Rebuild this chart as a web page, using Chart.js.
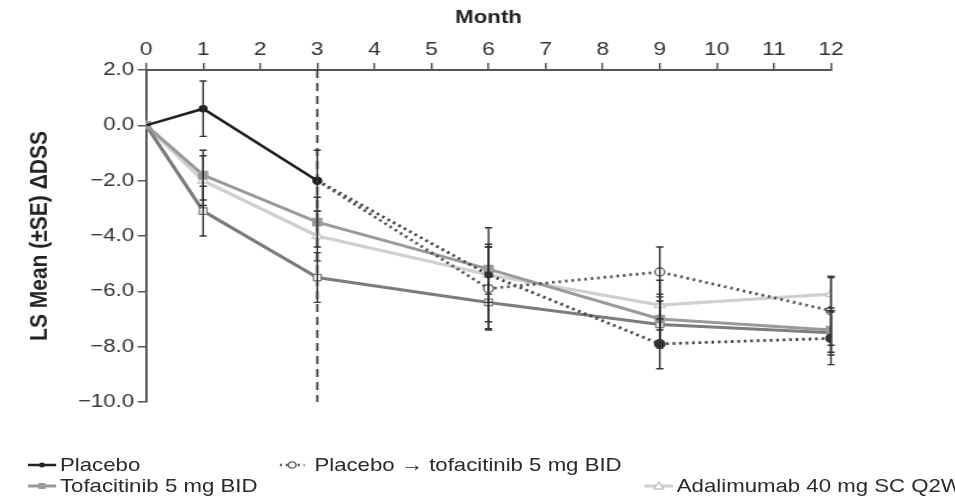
<!DOCTYPE html>
<html>
<head>
<meta charset="utf-8">
<script src="https://cdn.jsdelivr.net/npm/chart.js@4.4.1/dist/chart.umd.min.js"></script>
<style>
html, body { margin: 0; padding: 0; background: #fff; overflow: hidden; width: 955px; height: 501px; }
#wrap { position: absolute; left: 0; top: 0; width: 796px; height: 501px; transform: scaleX(1.2); transform-origin: 0 0; }
#box { position: absolute; left: 0; top: 0; width: 796px; height: 501px; }
.lg { position: absolute; font: 18.5px "Liberation Sans", Arial, sans-serif; line-height: 22px; color: #2a2a2a; white-space: nowrap; }
.mk { position: absolute; }
</style>
</head>
<body>
<div id="wrap">
  <div id="box"><canvas id="GraficoDSS"></canvas></div>

  <svg class="mk" style="left:23px;top:459px" width="24" height="12">
    <line x1="0" y1="6" x2="24" y2="6" stroke="#222" stroke-width="2.5"/>
    <circle cx="12" cy="6" r="2.5" fill="#222"/>
  </svg>
  <div class="lg" style="left:50px;top:454px">Placebo</div>

  <svg class="mk" style="left:233px;top:459px" width="21" height="12">
    <line x1="0" y1="6" x2="21" y2="6" stroke="#666" stroke-width="2.5" stroke-dasharray="2 3"/>
    <circle cx="10.5" cy="6" r="3.2" fill="#fff" stroke="#666" stroke-width="1.3"/>
  </svg>
  <div class="lg" style="left:262px;top:454px">Placebo → tofacitinib 5 mg BID</div>

  <svg class="mk" style="left:23px;top:480px" width="24" height="12">
    <line x1="0" y1="6" x2="24" y2="6" stroke="#9a9a9a" stroke-width="3"/>
    <rect x="9" y="3" width="6" height="6" fill="#9a9a9a"/>
  </svg>
  <div class="lg" style="left:50px;top:475px">Tofacitinib 5 mg BID</div>

  <svg class="mk" style="left:537px;top:480px" width="24" height="12">
    <line x1="0" y1="6" x2="24" y2="6" stroke="#cfcfcf" stroke-width="3"/>
    <polygon points="12,2 16,9 8,9" fill="#fff" stroke="#c4c4c4" stroke-width="1.3"/>
  </svg>
  <div class="lg" style="left:564px;top:475px">Adalimumab 40 mg SC Q2W</div>
</div>

<script>
// months on the x axis
var months = [0, 1, 3, 6, 9, 12];
var monthsPlacebo = [0, 1, 3];
var monthsSwitch = [3, 6, 9, 12];

// LS mean change in DSS
var placebo = [0, 0.6, -2.0];
var placeboTofa5 = [-2.0, -5.9, -5.3, -6.7];
var placeboTofa10 = [-2.0, -5.4, -7.9, -7.7];
var tofa5 = [0, -1.8, -3.5, -5.2, -7.0, -7.4];
var tofa10 = [0, -3.1, -5.5, -6.4, -7.2, -7.5];
var adalimumab = [0, -2.0, -4.0, -5.4, -6.5, -6.1];

// standard errors
var placeboSE = [0, 1.0, 1.1];
var placeboTofa5SE = [0, 1.5, 0.9, 1.25];
var placeboTofa10SE = [0, 1.7, 0.9, 0.95];
var tofa5SE = [0, 0.9, 0.9, 0.9, 0.9, 0.8];
var tofa10SE = [0, 0.9, 0.9, 0.95, 0.85, 0.8];
var adalimumabSE = [0, 0.9, 0.9, 1.0, 0.9, 0.6];

var yTicks = [2, 0, -2, -4, -6, -8, -10];
var switchMonth = 3;

function pts(xs, ys) {
  return ys.map(function (v, i) { return { x: xs[i], y: v }; });
}

var fontFam = '"Liberation Sans", Arial, sans-serif';

// vertical dashed line at month 3
var dashedLine = {
  id: 'dashedLine',
  beforeDatasetsDraw: function (chart) {
    var c = chart.ctx, a = chart.chartArea;
    var x = chart.scales.x.getPixelForValue(switchMonth);
    c.save();
    c.strokeStyle = '#3a3a3a';
    c.lineWidth = 1.8;
    c.setLineDash([8, 5]);
    c.beginPath();
    c.moveTo(x, a.top);
    c.lineTo(x, a.bottom);
    c.stroke();
    c.restore();
  }
};

// error bars from the SE arrays
var errorBars = {
  id: 'errorBars',
  afterDatasetsDraw: function (chart) {
    var c = chart.ctx, xs = chart.scales.x, ys = chart.scales.y;
    c.save();
    c.strokeStyle = '#333';
    c.lineWidth = 1.4;
    chart.data.datasets.forEach(function (ds) {
      ds.data.forEach(function (p, i) {
        var se = ds.errors[i];
        if (!se) return;
        var x = xs.getPixelForValue(p.x);
        var y1 = ys.getPixelForValue(p.y + se);
        var y2 = ys.getPixelForValue(p.y - se);
        c.beginPath();
        c.moveTo(x, y1); c.lineTo(x, y2);
        c.moveTo(x - 3, y1); c.lineTo(x + 3, y1);
        c.moveTo(x - 3, y2); c.lineTo(x + 3, y2);
        c.stroke();
      });
    });
    c.restore();
  }
};

var ctx = document.getElementById('GraficoDSS').getContext('2d');
var GraficoDSS = new Chart(ctx, {
  type: 'line',
  data: {
    datasets: [{
      label: 'Placebo',
      data: pts(monthsPlacebo, placebo),
      errors: placeboSE,
      borderColor: '#1e1e1e',
      backgroundColor: '#1e1e1e',
      borderWidth: 2.5,
      pointRadius: [0, 2.5, 3],
      pointStyle: 'circle'
    }, {
      label: 'Placebo → tofacitinib 5 mg BID',
      data: pts(monthsSwitch, placeboTofa5),
      errors: placeboTofa5SE,
      borderColor: '#555',
      borderWidth: 2.8,
      borderDash: [2.2, 3.2],
      pointRadius: [0, 4, 4, 4],
      pointBackgroundColor: '#fff',
      pointBorderColor: '#555',
      pointBorderWidth: 1.3,
      pointStyle: 'circle'
    }, {
      label: 'Placebo → tofacitinib 10 mg BID',
      data: pts(monthsSwitch, placeboTofa10),
      errors: placeboTofa10SE,
      borderColor: '#444',
      borderWidth: 2.8,
      borderDash: [2.2, 3.2],
      pointRadius: [0, 2.2, 3.5, 3.5],
      pointBackgroundColor: '#333',
      pointBorderColor: '#333',
      pointStyle: 'circle'
    }, {
      label: 'Tofacitinib 5 mg BID',
      data: pts(months, tofa5),
      errors: tofa5SE,
      borderColor: '#9a9a9a',
      borderWidth: 3,
      pointRadius: 4,
      pointBackgroundColor: '#9a9a9a',
      pointBorderColor: '#9a9a9a',
      pointStyle: 'rect'
    }, {
      label: 'Tofacitinib 10 mg BID',
      data: pts(months, tofa10),
      errors: tofa10SE,
      borderColor: '#7c7c7c',
      borderWidth: 3,
      pointRadius: 4.5,
      pointBackgroundColor: '#fff',
      pointBorderColor: '#7c7c7c',
      pointBorderWidth: 1.3,
      pointStyle: 'rect'
    }, {
      label: 'Adalimumab 40 mg SC Q2W',
      data: pts(months, adalimumab),
      errors: adalimumabSE,
      borderColor: '#d0d0d0',
      borderWidth: 3.2,
      pointRadius: 5,
      pointBackgroundColor: '#fff',
      pointBorderColor: '#c8c8c8',
      pointBorderWidth: 1.3,
      pointStyle: 'triangle'
    }]
  },
  options: {
    responsive: true,
    maintainAspectRatio: false,
    animation: false,
    layout: { padding: { left: 0, top: 0, right: 103.5, bottom: 99 } },
    plugins: {
      legend: { display: false },
      tooltip: { enabled: false }
    },
    scales: {
      x: {
        type: 'linear',
        position: 'top',
        min: 0,
        max: 12,
        afterFit: function (s) { s.height = 70; },
        ticks: { stepSize: 1, color: '#333', padding: 2, font: { family: fontFam, size: 19 } },
        grid: { drawOnChartArea: false, color: '#555', lineWidth: 1.5, tickLength: 7 },
        border: { color: '#555', width: 2 },
        title: { display: true, text: 'Month', color: '#222', padding: { top: 7, bottom: 0 }, font: { family: fontFam, size: 18.5, weight: 'bold' } }
      },
      y: {
        min: -10,
        max: 2,
        afterFit: function (s) { s.width = 121.7; },
        afterBuildTicks: function (s) { s.ticks = yTicks.map(function (v) { return { value: v }; }); },
        ticks: {
          color: '#333',
          padding: 3,
          font: { family: fontFam, size: 18.5 },
          callback: function (v) { return (v < 0 ? '\u2212' : '') + Math.abs(v).toFixed(1); }
        },
        grid: { drawOnChartArea: false, color: '#555', lineWidth: 1.5, tickLength: 7 },
        border: { color: '#555', width: 2 },
        title: { display: true, text: 'LS Mean (±SE) ΔDSS', color: '#222', padding: { top: 21, bottom: 0 }, font: { family: fontFam, size: 21, weight: 'bold' } }
      }
    }
  },
  plugins: [dashedLine, errorBars]
});
</script>
</body>
</html>
